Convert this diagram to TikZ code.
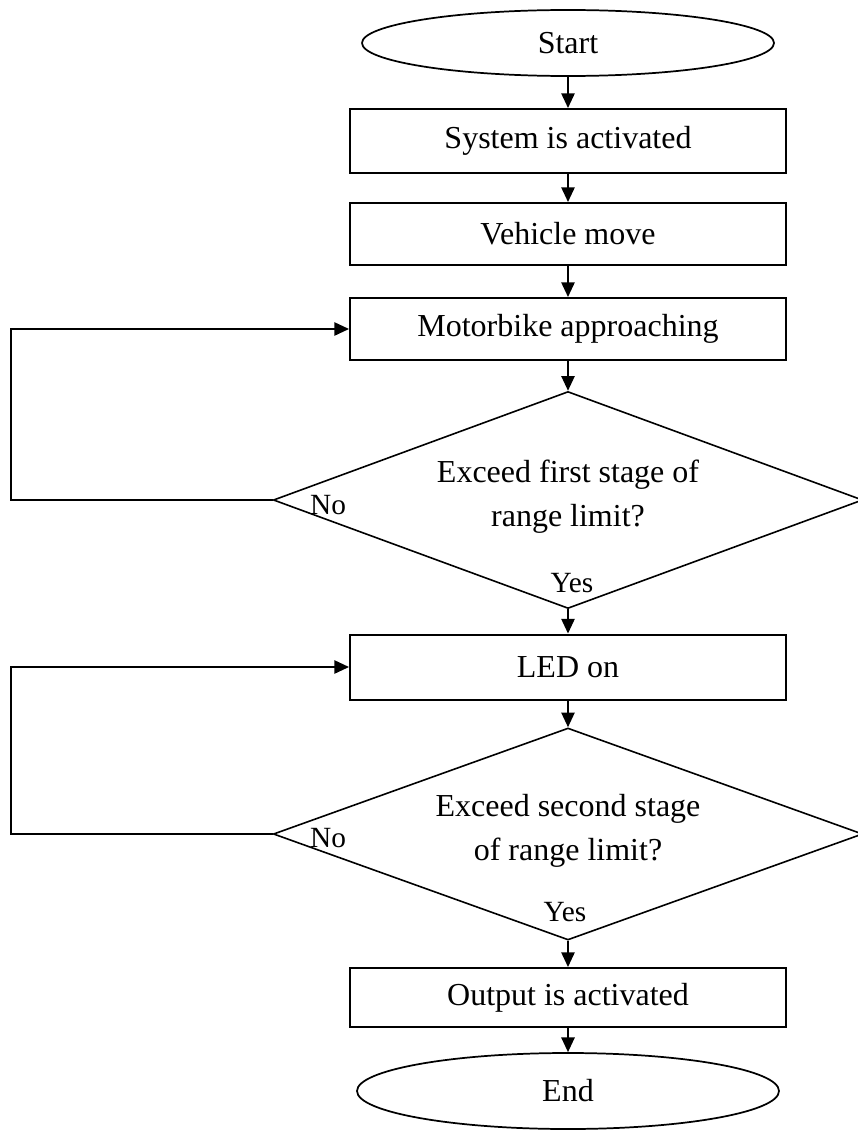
\documentclass[tikz,border=0pt]{standalone}
\usepackage{fontspec}
\setmainfont{Liberation Serif}
\usetikzlibrary{shapes.geometric,arrows.meta}
\begin{document}
\begin{tikzpicture}[x=0.75pt,y=-0.75pt,
  mainfont/.style={font=\fontsize{24}{33}\selectfont},
  boxnode/.style={draw,line width=1.5pt,rectangle,minimum width=327pt,inner sep=0pt,mainfont},
  ovalnode/.style={draw,line width=1.3pt,ellipse,inner sep=0pt,mainfont},
  decision/.style={draw,line width=1.2pt,diamond,inner sep=0pt,minimum width=442pt},
  lbl/.style={font=\fontsize{22}{26}\selectfont,inner sep=0pt},
  arr/.style={line width=1.2pt,-{Triangle[width=10pt,length=11pt]}}]
\useasboundingbox (0,0) rectangle (857,1131);
\node[ovalnode,minimum width=309pt,minimum height=49.5pt] (start) at (568,43) {Start};
\node[boxnode,minimum height=48pt] (b1) at (568,141) {System is activated};
\node[boxnode,minimum height=46.5pt] (b2) at (568,234) {Vehicle move};
\node[boxnode,minimum height=46.5pt] (b3) at (568,329) {Motorbike approaching};
\node[decision,minimum height=162.75pt] (d1) at (568,500) {};
\node[mainfont,align=center,inner sep=0pt] (t1) at (568,497) {Exceed first stage of\\range limit?};
\node[boxnode,minimum height=48.75pt] (b4) at (568,667) {LED on};
\node[decision,minimum height=159pt] (d2) at (568,834) {};
\node[mainfont,align=center,inner sep=0pt] (t2) at (568,831) {Exceed second stage\\of range limit?};
\node[boxnode,minimum height=44.25pt] (b5) at (568,997.5) {Output is activated};
\node[ovalnode,minimum width=316.5pt,minimum height=57pt] (end) at (568,1091) {End};
\node[lbl] (no1) at (328,505) {No};
\node[lbl] (yes1) at (572,583) {Yes};
\node[lbl] (no2) at (328,838) {No};
\node[lbl] (yes2) at (565,912) {Yes};
\coordinate (l1) at (11,500);
\coordinate (l2) at (11,834);
\draw[arr] (start.south) -- (b1.north);
\draw[arr] (b1.south) -- (b2.north);
\draw[arr] (b2.south) -- (b3.north);
\draw[arr] (b3.south) -- (d1.north);
\draw[arr] (d1.south) -- (b4.north);
\draw[arr] (b4.south) -- (d2.north);
\draw[arr] (d2.south) -- (b5.north);
\draw[arr] (b5.south) -- (end.north);
\draw[arr] (d1.west) -- (l1) |- (b3.west);
\draw[arr] (d2.west) -- (l2) |- (b4.west);
\end{tikzpicture}
\end{document}
